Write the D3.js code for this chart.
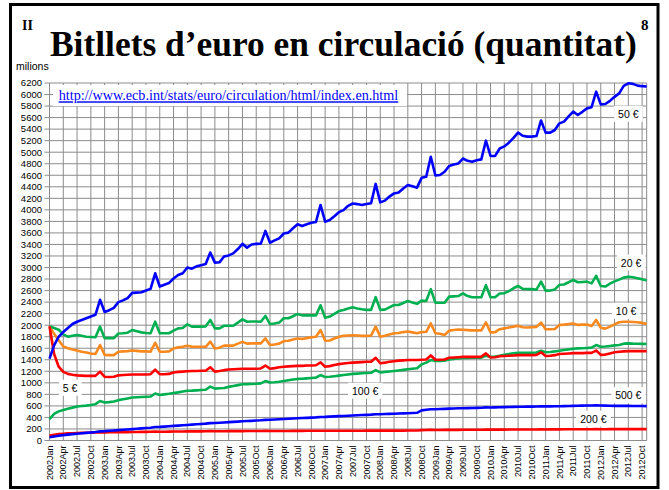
<!DOCTYPE html>
<meta charset="utf-8">
<style type="text/css">
	body { margin: 0; background: #ffffff; }
	text { font-family: "Liberation Sans", Arial, sans-serif; }
	.serif { font-family: "Liberation Serif", "Times New Roman", serif; }
</style>
<body>
	<div id="chart"></div>
</body>
<script src="https://d3js.org/d3.v7.min.js"></script>
<script>
	// categories: 2002Jan .. 2012Nov
	const monthNames = ["Jan", "Feb", "Mar", "Apr", "May", "Jun", "Jul", "Aug", "Sep", "Oct", "Nov", "Dec"];
	const months = [];
	for (let yr = 2002; yr <= 2012; yr++) monthNames.forEach(m => months.push(yr + m));
	months.length = 131;

	// millions of banknotes
	const eur50 = [1420,1650,1800,1880,1950,2020,2060,2090,2120,2150,2180,2440,2230,2260,2300,2400,2430,2470,2560,2565,2570,2600,2630,2900,2670,2700,2730,2810,2870,2900,3000,2980,3020,3040,3060,3260,3085,3090,3190,3210,3245,3320,3410,3345,3400,3410,3415,3635,3430,3470,3505,3590,3605,3680,3750,3720,3750,3775,3790,4085,3795,3825,3890,3960,3995,4070,4110,4100,4085,4100,4115,4450,4130,4160,4230,4285,4300,4370,4430,4410,4385,4555,4575,4920,4595,4605,4660,4760,4785,4805,4890,4850,4835,4860,4875,5200,4935,4935,5065,5100,5165,5250,5340,5285,5270,5270,5280,5550,5340,5340,5385,5500,5530,5620,5705,5645,5700,5760,5780,6050,5830,5835,5890,5960,6020,6150,6195,6185,6155,6145,6140];
	const eur20 = [1980,1950,1920,1840,1800,1815,1830,1815,1800,1795,1790,1975,1775,1775,1775,1855,1860,1870,1915,1895,1875,1865,1860,2060,1860,1860,1860,1905,1945,1950,2015,1975,1975,1975,1980,2090,1945,1945,1990,1990,1990,2045,2100,2060,2065,2065,2060,2160,2020,2030,2045,2120,2120,2155,2195,2170,2170,2170,2170,2345,2130,2150,2195,2245,2265,2290,2310,2290,2275,2265,2265,2485,2265,2270,2310,2350,2350,2385,2420,2395,2370,2425,2420,2625,2390,2390,2390,2495,2500,2505,2550,2505,2485,2485,2485,2695,2485,2485,2550,2555,2590,2640,2680,2630,2625,2625,2615,2755,2600,2600,2620,2700,2705,2745,2785,2745,2750,2755,2725,2855,2680,2670,2720,2760,2790,2825,2840,2830,2815,2795,2775];
	const eur10 = [1980,1850,1740,1630,1600,1580,1560,1540,1525,1510,1500,1655,1485,1480,1480,1540,1545,1550,1560,1555,1545,1545,1540,1695,1540,1540,1545,1595,1615,1625,1645,1625,1625,1625,1625,1715,1595,1610,1645,1645,1645,1680,1710,1680,1685,1685,1685,1770,1655,1665,1680,1725,1730,1750,1770,1760,1775,1790,1800,1915,1730,1735,1770,1800,1815,1820,1825,1820,1815,1815,1820,1975,1800,1815,1840,1860,1865,1880,1890,1875,1860,1880,1885,2030,1860,1850,1830,1905,1915,1925,1920,1915,1910,1910,1910,2050,1875,1880,1930,1945,1960,1975,1990,1965,1960,1965,1970,2045,1930,1930,1935,2005,2010,2020,2030,2005,2010,2010,1985,2090,1955,1940,1975,2015,2050,2060,2060,2055,2050,2040,2020];
	const eur5 = [1980,1500,1280,1190,1155,1140,1130,1125,1120,1120,1120,1195,1105,1100,1105,1130,1135,1140,1145,1145,1145,1145,1150,1230,1150,1150,1155,1180,1190,1195,1200,1205,1205,1210,1210,1270,1195,1205,1220,1230,1235,1240,1245,1245,1245,1245,1250,1300,1245,1255,1270,1280,1285,1290,1295,1295,1300,1300,1305,1355,1280,1290,1310,1325,1335,1345,1350,1355,1360,1365,1365,1435,1340,1350,1365,1375,1385,1390,1395,1395,1395,1400,1405,1475,1400,1400,1405,1435,1440,1445,1450,1450,1450,1450,1455,1510,1440,1445,1460,1465,1470,1475,1480,1480,1480,1480,1485,1530,1465,1470,1480,1500,1505,1510,1515,1515,1515,1520,1520,1560,1485,1490,1510,1530,1540,1545,1550,1550,1550,1550,1550];
	const eur100 = [370,460,505,530,550,570,590,598,605,615,630,685,660,665,675,700,715,730,745,750,755,758,762,815,790,800,810,825,835,850,862,865,870,875,880,935,900,905,910,930,945,960,975,978,980,985,990,1030,1005,1010,1020,1032,1045,1058,1068,1072,1078,1085,1090,1135,1100,1105,1115,1125,1135,1145,1155,1160,1165,1170,1175,1220,1182,1190,1198,1206,1215,1225,1235,1245,1252,1320,1350,1395,1378,1380,1385,1405,1415,1425,1430,1432,1434,1436,1438,1470,1450,1455,1470,1485,1500,1512,1522,1522,1522,1522,1525,1558,1530,1535,1545,1558,1570,1580,1592,1597,1600,1605,1610,1655,1627,1630,1640,1650,1657,1680,1685,1680,1677,1675,1673];
	const eur500 = [55,70,82,93,102,110,118,125,132,139,146,158,162,168,174,180,186,192,198,204,210,216,222,235,236,241,247,253,258,264,270,275,281,287,292,302,303,308,313,318,323,328,333,337,341,346,350,358,360,364,368,372,377,381,385,389,393,397,401,408,410,414,418,422,426,430,434,438,441,445,449,455,456,459,462,465,468,471,473,476,480,522,532,542,543,546,549,552,555,558,560,562,564,566,568,574,573,575,577,579,581,583,585,586,587,588,589,594,591,592,593,595,597,599,601,602,604,606,608,612,606,604,602,601,600,600,600,599,599,598,597];
	const eur200 = [85,100,110,118,123,127,130,133,135,137,139,143,141,142,143,144,145,146,147,148,149,150,151,154,152,153,154,155,156,157,158,158,159,159,160,162,160,161,161,162,162,163,163,164,164,164,165,167,165,165,166,166,166,167,167,167,168,168,168,170,168,168,169,169,169,170,170,170,170,171,171,173,171,171,172,172,172,172,173,173,173,180,182,185,183,183,184,184,185,185,186,186,186,187,187,189,188,188,189,189,190,190,190,191,191,191,192,194,192,193,193,193,194,194,194,195,195,195,196,198,196,196,197,197,197,198,198,198,198,198,198];

	const yTicks = d3.range(0, 6201, 200);

	const width = 669;
	const height = 490;

	const svg = d3.select("#chart")
		.append("svg")
		.attr("width", width)
		.attr("height", height);

	// outer frame
	svg.append("rect")
		.attr("x", 10.5).attr("y", 4.5)
		.attr("width", 647.5).attr("height", 483)
		.attr("fill", "none").attr("stroke", "#000").attr("stroke-width", 3);

	const x = d3.scaleLinear().domain([0, months.length - 1]).range([49.5, 646.7]);
	const y = d3.scaleLinear().domain([0, 6200]).range([440.5, 83]);

	// fits a text element to a given width by scaling its font size
	function fitWidth(t, w) {
		const len = t.node().getComputedTextLength();
		const fs = parseFloat(t.attr("font-size"));
		t.attr("font-size", fs * w / len);
	}

	// title
	svg.append("text").attr("class", "serif")
		.attr("x", 22).attr("y", 30)
		.attr("font-size", 14).attr("font-weight", "bold")
		.text("II");
	svg.append("text").attr("class", "serif")
		.attr("x", 641).attr("y", 30)
		.attr("font-size", 15).attr("font-weight", "bold")
		.text("8");
	const title = svg.append("text").attr("class", "serif")
		.attr("x", 50).attr("y", 56)
		.attr("font-size", 34).attr("font-weight", "bold")
		.text("Bitllets d’euro en circulació (quantitat)");
	fitWidth(title, 587);

	svg.append("text")
		.attr("x", 16).attr("y", 70)
		.attr("font-size", 10.5)
		.text("milions");

	// grid
	const grid = svg.append("g").attr("stroke", "#8c8c8c").attr("stroke-width", 1);
	grid.selectAll(".hg").data(yTicks).enter().append("line")
		.attr("x1", x(0) - 5).attr("x2", x(months.length - 1))
		.attr("y1", d => y(d)).attr("y2", d => y(d));
	const xTickIdx = d3.range(0, months.length, 3);
	grid.selectAll(".vg").data(xTickIdx.concat([months.length - 1])).enter().append("line")
		.attr("x1", d => x(d)).attr("x2", d => x(d))
		.attr("y1", y(6200)).attr("y2", y(0));

	// y labels
	svg.append("g").selectAll("text").data(yTicks).enter().append("text")
		.attr("x", 42).attr("y", d => y(d)).attr("dy", "0.35em")
		.attr("text-anchor", "end").attr("font-size", 9.5)
		.text(d => d);

	// x labels
	svg.append("g").selectAll("text").data(xTickIdx).enter().append("text")
		.attr("transform", d => `translate(${x(d)},${y(0) + 5}) rotate(-90)`)
		.attr("dy", "0.35em")
		.attr("text-anchor", "end").attr("font-size", 9)
		.text(d => months[d]);

	// URL box
	svg.append("rect")
		.attr("x", 53).attr("y", 85).attr("width", 354).attr("height", 21)
		.attr("fill", "#fff");
	const url = svg.append("text").attr("class", "serif")
		.attr("x", x(2)).attr("y", y(5900))
		.attr("font-size", 12).attr("fill", "#0000ff")
		.attr("text-decoration", "underline")
		.text("http://www.ecb.int/stats/euro/circulation/html/index.en.html");
	fitWidth(url, 340);

	// series
	const series = [
		{ name: "200 €", values: eur200, color: "#ff0000" },
		{ name: "500 €", values: eur500, color: "#0000ff" },
		{ name: "100 €", values: eur100, color: "#00b050" },
		{ name: "10 €", values: eur10, color: "#f7891e" },
		{ name: "20 €", values: eur20, color: "#00b050" },
		{ name: "5 €", values: eur5, color: "#ff0000" },
		{ name: "50 €", values: eur50, color: "#0000ff" }
	];
	const line = d3.line().x((d, i) => x(i)).y(d => y(d));
	svg.append("g").selectAll("path").data(series).enter().append("path")
		.attr("d", d => line(d.values))
		.attr("fill", "none")
		.attr("stroke", d => d.color)
		.attr("stroke-width", 2.6)
		.attr("stroke-linejoin", "round");

	// series labels, placed in data units
	const labels = [
		{ text: "50 €", i: 126, v: 5660 },
		{ text: "20 €", i: 126.6, v: 3080 },
		{ text: "10 €", i: 125.5, v: 2245 },
		{ text: "5 €", i: 4.5, v: 910 },
		{ text: "100 €", i: 68.7, v: 858 },
		{ text: "500 €", i: 126, v: 780 },
		{ text: "200 €", i: 118.4, v: 373 }
	];
	const lg = svg.append("g").selectAll("g").data(labels).enter().append("g");
	lg.append("text")
		.attr("x", d => x(d.i)).attr("y", d => y(d.v)).attr("dy", "0.35em")
		.attr("text-anchor", "middle").attr("font-size", 10.5)
		.text(d => d.text)
		.each(function () {
			const b = this.getBBox();
			d3.select(this.parentNode).insert("rect", "text")
				.attr("x", b.x - 4).attr("y", b.y - 2)
				.attr("width", b.width + 8).attr("height", b.height + 4)
				.attr("fill", "#fff");
		});
</script>
